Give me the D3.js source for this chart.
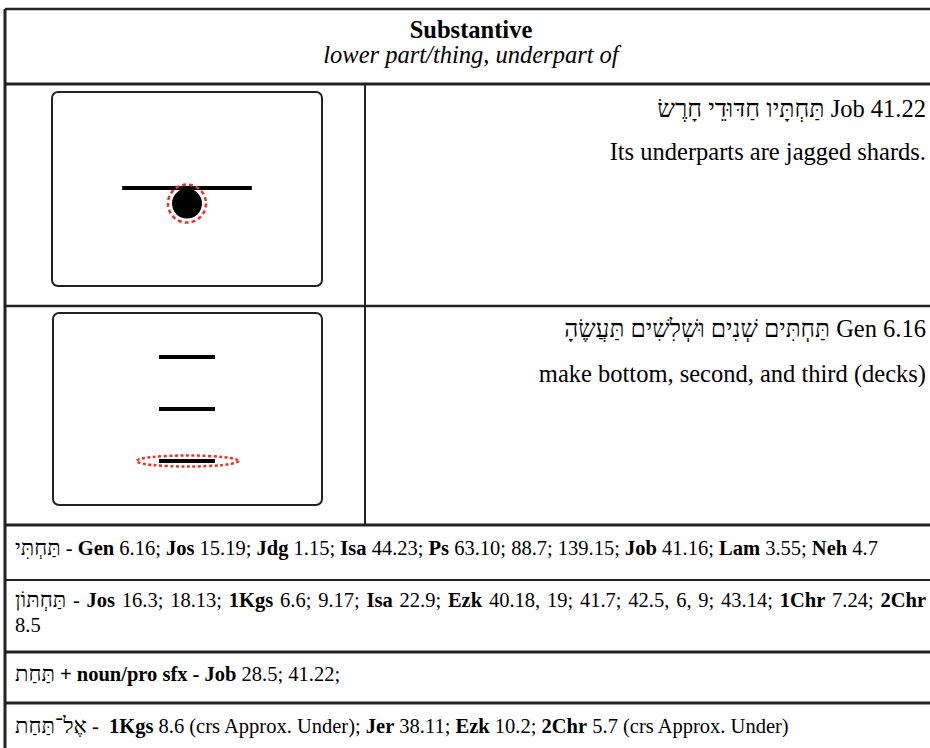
<!DOCTYPE html>
<html>
<head>
<meta charset="utf-8">
<script src="https://cdn.jsdelivr.net/npm/d3@7"></script>
<style>
  html, body { margin: 0; padding: 0; background: #fff; }
  svg { display: block; }
  text { font-family: "Liberation Serif", "Times New Roman", serif; fill: #000; white-space: pre; }
</style>
</head>
<body>
<div id="chart"></div>
<script>
// ---------- data ----------
const title = "Substantive";
const subtitle = "lower part/thing, underpart of";

const exampleHebrew = ["תַּחְתָּיו חַדּוּדֵי חָרֶשׂ", "תַּחְתִּים שְׁנִים וּשְׁלִשִׁים תַּעֲשֶׂהָ"];
const exampleRefs = ["Job 41.22", "Gen 6.16"];
const exampleGlosses = ["Its underparts are jagged shards.", "make bottom, second, and third (decks)"];

// diagram 2: decks of the ark, the bottom one highlighted
const deckLevels = ["third", "second", "bottom"];
const highlightedDeck = "bottom";

// reference rows: [text, bold]; the first segment of each is the Hebrew form
const refRow1 = [["תַּחְתִּי", false], [" - ", false], ["Gen", true], [" 6.16; ", false], ["Jos", true], [" 15.19; ", false],
  ["Jdg", true], [" 1.15; ", false], ["Isa", true], [" 44.23; ", false], ["Ps", true], [" 63.10; 88.7; 139.15; ", false],
  ["Job", true], [" 41.16; ", false], ["Lam", true], [" 3.55; ", false], ["Neh", true], [" 4.7", false]];
const refRow2a = [["תַּחְתּוֹן", false], [" - ", false], ["Jos", true], [" 16.3; 18.13; ", false], ["1Kgs", true], [" 6.6; 9.17; ", false],
  ["Isa", true], [" 22.9; ", false], ["Ezk", true], [" 40.18, 19; 41.7; 42.5, 6, 9; 43.14; ", false], ["1Chr", true],
  [" 7.24; ", false], ["2Chr", true]];
const refRow2b = [["8.5", false]];
const refRow3 = [["תַּחַת", false], [" + noun/pro sfx - ", true], ["Job", true], [" 28.5; 41.22;", false]];
const refRow4 = [["אֶל־תַּחַת", false], [" - ", false], [" 1Kgs", true], [" 8.6 (crs Approx. Under); ", false], ["Jer", true],
  [" 38.11; ", false], ["Ezk", true], [" 10.2; ", false], ["2Chr", true], [" 5.7 (crs Approx. Under)", false]];

// ---------- layout ----------
const W = 930, H = 748;
const xLeft = 5, xRight = 931, yTop = 9;
const yHeaderBottom = 84, yRow1Bottom = 306, yRow2Bottom = 525, yRow3Bottom = 580, yRow4Bottom = 652, yRow5Bottom = 703;
const xDivider = 365;
const LRM = "\u200E";

const svg = d3.select("#chart").append("svg").attr("width", W).attr("height", H);

const lineColor = "#222";
const hRules = [[yTop, 2.5], [yHeaderBottom, 3], [yRow1Bottom, 2.5], [yRow2Bottom, 3], [yRow3Bottom, 2], [yRow4Bottom, 3], [yRow5Bottom, 3]];
svg.selectAll("line.h").data(hRules).join("line").attr("class", "h")
  .attr("x1", xLeft).attr("x2", xRight).attr("y1", d => d[0]).attr("y2", d => d[0])
  .attr("stroke", lineColor).attr("stroke-width", d => d[1]);
svg.append("line").attr("x1", xLeft).attr("x2", xLeft).attr("y1", yTop).attr("y2", H)
  .attr("stroke", lineColor).attr("stroke-width", 3);
svg.append("line").attr("x1", xDivider).attr("x2", xDivider).attr("y1", yHeaderBottom).attr("y2", yRow2Bottom)
  .attr("stroke", lineColor).attr("stroke-width", 2);

// header
svg.append("text").attr("x", 471).attr("y", 38).attr("text-anchor", "middle")
  .attr("font-size", 24.5).attr("font-weight", "bold").text(title);
svg.append("text").attr("x", 471).attr("y", 63).attr("text-anchor", "middle")
  .attr("font-size", 24.5).attr("font-style", "italic").text(subtitle);

// example texts (right column)
const exBase = [117, 337];
const glossBase = [160, 382];
const hebSizes = [25, 24.5];
exampleRefs.forEach((ref, i) => {
  const t = svg.append("text").attr("x", 926).attr("y", exBase[i]).attr("text-anchor", "end")
    .attr("font-size", 24.5).attr("direction", "ltr");
  t.append("tspan").attr("font-size", hebSizes[i]).text(exampleHebrew[i] + LRM);
  t.append("tspan").text(" " + ref);
  svg.append("text").attr("x", 926).attr("y", glossBase[i]).attr("text-anchor", "end")
    .attr("font-size", 24.5).text(exampleGlosses[i]);
});

// ---------- diagrams ----------
function box(x0, y0, x1, y1) {
  svg.append("rect").attr("x", x0).attr("y", y0).attr("width", x1 - x0).attr("height", y1 - y0)
    .attr("rx", 6).attr("ry", 6).attr("fill", "#fff").attr("stroke", "#222").attr("stroke-width", 2);
}
// diagram 1: an object under a surface
box(52, 92, 322, 286);
const d1x = d3.scaleLinear().domain([0, 1]).range([52, 322]);
const d1y = d3.scaleLinear().domain([0, 1]).range([92, 286]);
svg.append("line").attr("x1", d1x(0.26)).attr("x2", d1x(0.74)).attr("y1", d1y(0.495)).attr("y2", d1y(0.495))
  .attr("stroke", "#000").attr("stroke-width", 4);
svg.append("circle").attr("cx", d1x(0.5)).attr("cy", d1y(0.575)).attr("r", 15).attr("fill", "#000");
svg.append("circle").attr("cx", d1x(0.5)).attr("cy", d1y(0.575)).attr("r", 19).attr("fill", "none")
  .attr("stroke", "#e8352b").attr("stroke-width", 2.5).attr("stroke-dasharray", "4,3");

// diagram 2: three decks
box(53, 313, 322, 505);
const deckY = d3.scalePoint().domain(deckLevels).range([357, 461]);
svg.selectAll("line.deck").data(deckLevels).join("line").attr("class", "deck")
  .attr("x1", 159).attr("x2", 215).attr("y1", d => deckY(d)).attr("y2", d => deckY(d))
  .attr("stroke", "#000").attr("stroke-width", 4);
svg.append("ellipse").attr("cx", 187.5).attr("cy", deckY(highlightedDeck)).attr("rx", 51).attr("ry", 5.5)
  .attr("fill", "none").attr("stroke", "#e8352b").attr("stroke-width", 2.5).attr("stroke-dasharray", "3,2.5");

// ---------- reference rows ----------
function refLine(segments, y, justifyTo) {
  const t = svg.append("text").attr("x", 15).attr("y", y).attr("font-size", 20.5).attr("direction", "ltr");
  segments.forEach(([s, b]) => {
    const isHeb = /[\u0590-\u05FF]/.test(s);
    t.append("tspan").attr("font-weight", b ? "bold" : "normal")
      .attr("font-size", isHeb ? 22 : null)
      .text(isHeb ? s + LRM : s);
  });
  if (justifyTo) {
    const len = t.node().getComputedTextLength();
    const full = segments.map(d => d[0]).join("");
    const spaces = (full.match(/ /g) || []).length;
    const extra = (justifyTo - 15 - len) / spaces;
    if (extra > 0) t.attr("word-spacing", extra);
  }
}
refLine(refRow1, 555);
refLine(refRow2a, 607, 926);
refLine(refRow2b, 632);
refLine(refRow3, 681);
refLine(refRow4, 733);
</script>
</body>
</html>
